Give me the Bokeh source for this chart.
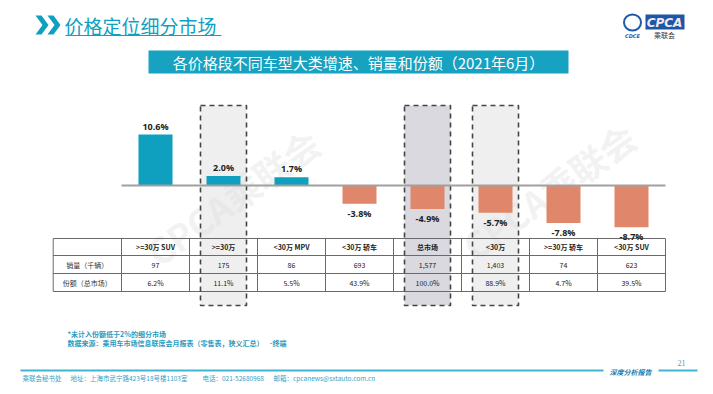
from bokeh.plotting import figure
from bokeh.models import Range1d
from bokeh.core.properties import value
from bokeh.embed import file_html
from bokeh.resources import INLINE

# ---------------- data ----------------
categories = [">=30万 SUV", ">=30万", "<30万 MPV", "<30万 轿车", "总市场", "<30万", ">=30万 轿车", "<30万 SUV"]
growth = [10.6, 2.0, 1.7, -3.8, -4.9, -5.7, -7.8, -8.7]
volume = ["97", "175", "86", "693", "1,577", "1,403", "74", "623"]
share = ["6.2%", "11.1%", "5.5%", "43.9%", "100.0%", "88.9%", "4.7%", "39.5%"]
row_labels = ["销量（千辆）", "份额（总市场）"]
highlight_idx = [1, 4, 5]
highlight_fill = ["#efeff0", "#d9d9df", "#efeff0"]

TITLE = "价格定位细分市场"
BANNER = "各价格段不同车型大类增速、销量和份额（2021年6月）"
NOTE1 = "*未计入份额低于2%的细分市场"
NOTE2 = "数据来源：乘用车市场信息联席会月报表（零售表，狭义汇总）\u00a0\u00a0\u00a0\u00a0-终端"
FOOTER_PARTS = ["乘联会秘书处", "地址：上海市武宁路423号18号楼1103室", "电话：021-52680968",
                "邮箱：cpcanews@sxtauto.com.cn"]
FOOTER_X = [22, 70, 202, 273]

CJK = value("Noto Sans CJK SC")
TEAL = "#0f9fbf"
SALMON = "#e0866a"

# ---------------- figure (page coordinates) ----------------
W, H = 705, 386
p = figure(width=W, height=H, output_backend="svg", toolbar_location=None,
           x_range=Range1d(0, W), y_range=Range1d(H, 0),
           min_border=0)
p.axis.visible = False
p.grid.visible = False
p.outline_line_color = None
p.background_fill_color = "white"

# chart scales: category index and growth %
X0, STEP = 121.0, 68.0          # category band start / width in page px
Y0, PXPCT = 185.0, 4.8          # zero line / px per percent
p.extra_x_ranges = {"cat": Range1d((0 - X0) / STEP, (W - X0) / STEP)}
p.extra_y_ranges = {"g": Range1d((Y0 - H) / PXPCT, (Y0 - 0) / PXPCT)}

n = len(categories)
centers = [i + 0.5 for i in range(n)]

# ---------------- header ----------------
def chev(x):
    return [x, x + 6, x + 13, x + 6, x, x + 7]
p.patches(xs=[chev(35), chev(47)],
          ys=[[15, 15, 24.5, 34, 34, 24.5]] * 2,
          fill_color=TEAL, line_color=None)
p.text(x=[64], y=[25], text=[TITLE], text_font=CJK, text_font_size="19px",
       text_color=TEAL, text_baseline="middle", text_align="left")
p.segment(x0=[65], y0=[35], x1=[221], y1=[35], line_color=TEAL, line_width=1)

# banner
p.quad(left=[148], right=[568], top=[50], bottom=[73], fill_color="#16a2c0",
       line_color=None)
p.text(x=[358], y=[62], text=[BANNER], text_font=CJK, text_font_size="15px",
       text_color="white", text_baseline="middle", text_align="center")

# logo
p.ellipse(x=[632], y=[22], width=[17], height=[16], fill_color=None,
          line_color="#1e5aa8", line_width=2)
p.text(x=[632], y=[35], text=["CDCE"], text_font=value("DejaVu Sans"),
       text_font_size="5px", text_font_style="bold italic", text_color="#1e5aa8",
       text_align="center", text_baseline="middle")
p.quad(left=[645], right=[684], top=[14], bottom=[29], fill_color="#1d56a5",
       line_color=None)
p.text(x=[664], y=[22], text=["CPCA"], text_font=value("DejaVu Sans"),
       text_font_size="12px", text_font_style="bold italic", text_color="#f3e8f0",
       text_align="center", text_baseline="middle")
p.text(x=[664], y=[34], text=["乘联会"], text_font=CJK, text_font_size="7px",
       text_color="#333344", text_align="center", text_baseline="middle")

# ---------------- highlight boxes ----------------
hl_c = [centers[i] for i in highlight_idx]
half = 23 / STEP
p.quad(left=[c - half for c in hl_c], right=[c + half for c in hl_c],
       top=[105] * len(hl_c), bottom=[305] * len(hl_c),
       fill_color=highlight_fill, line_color=None, x_range_name="cat")

# watermark
p.text(x=[232, 548], y=[196, 190], text=["CPCA乘联会", "CPCA乘联会"],
       text_font=CJK, text_font_size="36px", text_font_style="bold",
       text_color="#dcdcdc", text_alpha=0.35, angle=0.62,
       text_align="center", text_baseline="middle")

# ---------------- table ----------------
row_y = [238, 255, 273, 291]
tab_left = 52.7
p.segment(x0=[tab_left] * 4, x1=[X0 + STEP * n] * 4, y0=row_y, y1=row_y,
          line_color="#6a6a6a", line_width=1)
vx = [(tab_left - X0) / STEP] + list(range(n + 1))
p.segment(x0=vx, x1=vx, y0=[row_y[0]] * len(vx), y1=[row_y[-1]] * len(vx),
          line_color="#6a6a6a", line_width=1, x_range_name="cat")

mid = [(row_y[k] + row_y[k + 1]) / 2 for k in range(3)]
tf = "7px"
p.text(x=centers, y=[mid[0]] * n, text=categories, text_font=CJK,
       text_font_size=tf, text_font_style="bold", text_color="#222222",
       text_align="center", text_baseline="middle", x_range_name="cat")
p.text(x=centers, y=[mid[1]] * n, text=volume, text_font=CJK,
       text_font_size=tf, text_color="#222222",
       text_align="center", text_baseline="middle", x_range_name="cat")
p.text(x=centers, y=[mid[2]] * n, text=share, text_font=CJK,
       text_font_size=tf, text_color="#222222",
       text_align="center", text_baseline="middle", x_range_name="cat")
lab_x = ((tab_left - X0) / STEP) / 2
p.text(x=[lab_x, lab_x], y=[mid[1], mid[2]], text=row_labels, text_font=CJK,
       text_font_size=tf, text_color="#333333",
       text_align="center", text_baseline="middle", x_range_name="cat")

# dashed borders of highlight boxes
p.quad(left=[c - half for c in hl_c], right=[c + half for c in hl_c],
       top=[105] * len(hl_c), bottom=[305] * len(hl_c),
       fill_color=None, line_color="#444444", line_width=1.6,
       line_dash="5 4", x_range_name="cat")

# ---------------- bars ----------------
bw = 34 / STEP
colors = [TEAL if g >= 0 else SALMON for g in growth]
p.vbar(x=centers, top=growth, bottom=0, width=bw, fill_color=colors,
       line_color=None, x_range_name="cat", y_range_name="g")
p.segment(x0=[0], x1=[n], y0=[0], y1=[0], line_color="#a0a0a0", line_width=2,
          x_range_name="cat", y_range_name="g")

labels = [f"{g:.1f}%" for g in growth]
pos = [i for i, g in enumerate(growth) if g >= 0]
neg = [i for i, g in enumerate(growth) if g < 0]
p.text(x=[centers[i] for i in pos], y=[growth[i] for i in pos],
       text=[labels[i] for i in pos], text_font=value("Open Sans"),
       text_font_size="9px", text_font_style="bold", text_color="#222222",
       text_align="center", text_baseline="bottom", y_offset=-2,
       x_range_name="cat", y_range_name="g")
p.text(x=[centers[i] for i in neg], y=[growth[i] for i in neg],
       text=[labels[i] for i in neg], text_font=value("Open Sans"),
       text_font_size="9px", text_font_style="bold", text_color="#222222",
       text_align="center", text_baseline="top", y_offset=3,
       x_range_name="cat", y_range_name="g")

# ---------------- notes & footer ----------------
p.text(x=[67, 67], y=[333, 342], text=[NOTE1, NOTE2], text_font=CJK,
       text_font_size="7px", text_font_style="bold", text_color="#2a9cc0",
       text_align="left", text_baseline="middle")
p.segment(x0=[20, 658], x1=[603, 697], y0=[370, 370], y1=[370, 370],
          line_color="#3fb5d2", line_width=2)
p.text(x=[630], y=[371], text=["深度分析报告"], text_font=CJK,
       text_font_size="7px", text_font_style="bold italic", text_color="#1c7fb0",
       text_align="center", text_baseline="middle")
p.text(x=[681], y=[362], text=["21"], text_font=value("Liberation Serif"),
       text_font_size="8px", text_color="#6a8fb0",
       text_align="center", text_baseline="middle")
p.text(x=FOOTER_X, y=[377] * len(FOOTER_X), text=FOOTER_PARTS, text_font=CJK,
       text_font_size="6.5px", text_color="#3a9fc4", text_align="left",
       text_baseline="middle")

open("out.html", "w").write(file_html(p, INLINE))
